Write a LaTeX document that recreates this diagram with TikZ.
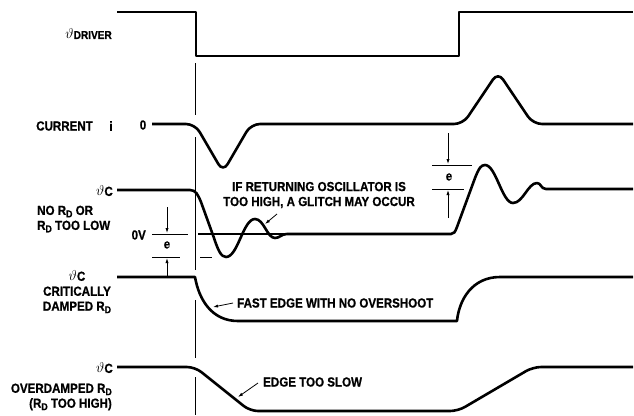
\documentclass[tikz,border=0pt]{standalone}
\usepackage{fontspec}
\setsansfont{Liberation Sans}[FakeStretch=0.88,BoldFeatures={FakeBold=0.8}]
\renewcommand{\familydefault}{\sfdefault}
\usetikzlibrary{arrows.meta}
\newcommand{\rdsub}{R\raisebox{-0.35ex}{\fontsize{10}{10}\selectfont D}}
\newcommand{\vth}{{\fontsize{15}{15}\selectfont$\vartheta$}}
\begin{document}
\begin{tikzpicture}[x=1bp,y=-1bp,
		wave/.style={line width=2.6bp,line join=round},
		guide/.style={line width=0.8bp},
		dim/.style={line width=0.8bp,-{Latex[length=5bp,width=3.2bp]}},
		lbl/.style={font=\fontsize{13.2}{15}\selectfont\bfseries,inner sep=0pt}]
	\useasboundingbox (0,0) rectangle (634,415);
	% driver
	\draw[wave] (117,12) -- (196,12) -- (196,56) -- (459,56) -- (459,12) -- (633,12);
	\node[lbl,anchor=east] (drv) at (112,34) {\vth{\fontsize{11.5}{11}\selectfont DRIVER}};
	% marker line at the falling edge
	\foreach \ya/\yb in {63/115,137/270,300/358,377/415}
		\draw[guide] (195,\ya) -- (195,\yb);
	% current
	\draw[wave,rounded corners=9bp] (152,124) -- (195,124) -- (223,172) -- (251,124) -- (463,124) -- (498,72) -- (533,124) -- (633,124);
	\node[lbl,anchor=east] (cur) at (93,126) {CURRENT};
	\node[lbl] (curi) at (111,126) {i};
	\node[lbl] (zero) at (143,125) {0};
	% vC, no RD
	\draw[wave] (198,234) -- (287,234);
	\draw[wave] (117,190) -- (190,190) .. controls (196,190) and (198,195) .. (201,202) -- (214,238)
		.. controls (218,250) and (221,257) .. (226,257) .. controls (238,257) and (243,219) .. (255,219)
		.. controls (264,219) and (267,238) .. (275,238) .. controls (280,238) and (281,234) .. (287,234)
		-- (451,234) .. controls (454,234) and (455,232) .. (457,227) -- (475,178)
		.. controls (479,168) and (481,165) .. (485,165) .. controls (496,165) and (502,203) .. (513,203)
		.. controls (523,203) and (528,183) .. (537,183) .. controls (541,183) and (541,189) .. (546,189)
		-- (633,189);
	\node[lbl,anchor=east] (vcA) at (113,191) {\vth C};
	\node[lbl,anchor=west,align=left] (noRd) at (37,219) {NO \rdsub{} OR\\\rdsub{} TOO LOW};
	\node[lbl,anchor=east] (ov) at (146,235) {0V};
	\draw[guide] (152,234) -- (188,234);
	\draw[guide] (152,257) -- (180,257);
	\draw[guide] (200,257) -- (212,257);
	\node[lbl] (eL) at (167,245) {e};
	\coordinate (eLtop) at (167,207);
	\coordinate (eLbot) at (167,278);
	\draw[dim] (eLtop) -- (167,233);
	\draw[dim] (eLbot) -- (167,258);
	\draw[guide] (432,165) -- (472,165);
	\draw[guide] (432,189) -- (464,189);
	\node[lbl] (eR) at (449,177) {e};
	\coordinate (eRtop) at (448,133);
	\coordinate (eRbot) at (448,218);
	\draw[dim] (eRtop) -- (448,164);
	\draw[dim] (eRbot) -- (448,190);
	\node[lbl,align=center] (glitch) at (319,195) {IF RETURNING OSCILLATOR IS\\TOO HIGH, A GLITCH MAY OCCUR};
	\coordinate (glA) at (277,214);
	\coordinate (glB) at (265,224);
	\draw[dim] (glA) -- (glB);
	% vC, critically damped
	\draw[wave] (117,277) -- (195,277) .. controls (199,300) and (212,321) .. (238,321) -- (457,321)
		.. controls (459,300) and (472,277) .. (500,277) -- (633,277);
	\node[lbl,align=center] (vcB) at (77,292) {\vth C\\CRITICALLY\\DAMPED \rdsub};
	\node[lbl,anchor=west] (fast) at (237,303) {FAST EDGE WITH NO OVERSHOOT};
	\coordinate (fastTip) at (213,307);
	\draw[dim] (fast.west) ++(-4,0) coordinate (fastA) (fastA) -- (fastTip);
	% vC, overdamped
	\draw[wave,rounded corners=8bp] (117,367) -- (195,367) -- (250,411) -- (458,411) -- (533,367) -- (633,367);
	\node[lbl,anchor=east] (vcC) at (113,368) {\vth C};
	\node[lbl,anchor=east,align=right] (over) at (112,397) {OVERDAMPED \rdsub\\(\rdsub{} TOO HIGH)};
	\node[lbl,anchor=west] (slow) at (263,382) {EDGE TOO SLOW};
	\coordinate (slowTip) at (238,397);
	\draw[dim] (slow.west) ++(-5,1) coordinate (slowA) (slowA) -- (slowTip);
\end{tikzpicture}
\end{document}
